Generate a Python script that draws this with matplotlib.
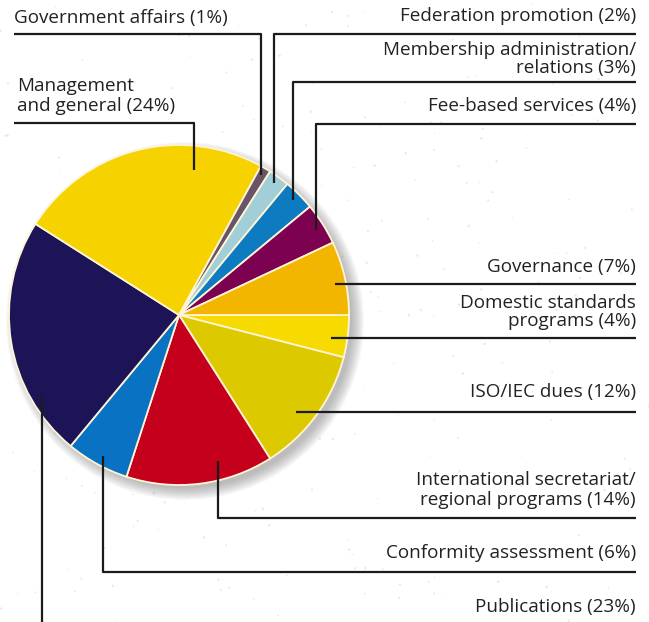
import numpy as np
import matplotlib
matplotlib.use("Agg")
import matplotlib.pyplot as plt
from matplotlib.patches import Circle

# donnees : ordre horaire a partir de 3 heures
categories = ["Domestic standards\nprograms", "ISO/IEC dues",
              "International secretariat/\nregional programs",
              "Conformity assessment", "Publications",
              "Management\nand general", "Government affairs",
              "Federation promotion", "Membership administration/\nrelations",
              "Fee-based services", "Governance"]
shares = [4, 12, 14, 6, 23, 24, 1, 2, 3, 4, 7]
colors = ["#F7DA00", "#DCC900", "#C4001C", "#0A72C2", "#1C1456",
          "#F6D200", "#6A5468", "#A2CED8", "#0E7AC0", "#7C0150", "#F2B600"]

W, H = 649, 622
cx, cy, R = 179, 315, 170

fig = plt.figure(figsize=(W / 100, H / 100), dpi=100)
ax = fig.add_axes([0, 0, 1, 1])

# fond tachete
rng = np.random.default_rng(3)
sx = rng.uniform(0, W, 260)
sy = rng.uniform(0, H, 260)
ax.scatter(sx, sy, s=rng.uniform(0.5, 3.5, 260), color="#cfcfcf", alpha=0.45, lw=0, zorder=0)

# ombre douce
for k in range(14):
    ax.add_patch(Circle((cx + 6, H - cy - 6), R + 9 - k * 0.9, color="#707070",
                        alpha=0.04, lw=0, zorder=1))

wedges, _ = ax.pie(shares, colors=colors, startangle=0, counterclock=False,
                   center=(cx, H - cy), radius=R, frame=True,
                   wedgeprops=dict(edgecolor="#FFF4D6", linewidth=1.3))
for w in wedges:
    w.set_zorder(2)
ax.set_xlim(0, W)
ax.set_ylim(0, H)
ax.set_aspect("equal")
ax.axis("off")

plt.rcParams["font.family"] = ["Open Sans", "DejaVu Sans"]
fs = 13.6
lc = "#1b1b1b"
lw = 1.6


def Y(y):
    return H - y


def leader(pts):
    xs = [p[0] for p in pts]
    ys = [Y(p[1]) for p in pts]
    ax.plot(xs, ys, color=lc, lw=lw, solid_capstyle="butt", zorder=3)


def lab(x, y, s, ha, ls=1.0):
    ax.text(x, Y(y), s, ha=ha, va="center", fontsize=fs, color="#222222",
            linespacing=ls, zorder=4)


xr = 636
# etiquettes (texte, pourcentage)
lab(14, 18, "%s (%d%%)" % (categories[6], shares[6]), "left")
leader([(14, 34), (261, 34), (261, 175)])

lab(xr, 16, "%s (%d%%)" % (categories[7], shares[7]), "right")
leader([(xr, 34), (274, 34), (274, 183)])

lab(xr, 59, "%s (%d%%)" % (categories[8], shares[8]), "right", 0.98)
leader([(xr, 82), (293, 82), (293, 200)])

lab(xr, 106, "%s (%d%%)" % (categories[9], shares[9]), "right")
leader([(xr, 124), (316, 124), (316, 230)])

lab(17, 96, "%s (%d%%)" % (categories[5], shares[5]), "left", 1.12)
leader([(14, 123), (194, 123), (194, 170)])

lab(xr, 267, "%s (%d%%)" % (categories[10], shares[10]), "right")
leader([(xr, 284), (335, 284)])

lab(xr, 312, "%s (%d%%)" % (categories[0], shares[0]), "right", 1.05)
leader([(xr, 338), (331, 338)])

lab(xr, 392, "%s (%d%%)" % (categories[1], shares[1]), "right")
leader([(xr, 412), (296, 412)])

lab(xr, 490, "%s (%d%%)" % (categories[2], shares[2]), "right", 1.1)
leader([(218, 461), (218, 518), (xr, 518)])

lab(xr, 553, "%s (%d%%)" % (categories[3], shares[3]), "right")
leader([(103, 456), (103, 572), (xr, 572)])

lab(xr, 607, "%s (%d%%)" % (categories[4], shares[4]), "right")
leader([(42, 395), (42, 622)])

fig.savefig("out.png", dpi=100, facecolor="white")
